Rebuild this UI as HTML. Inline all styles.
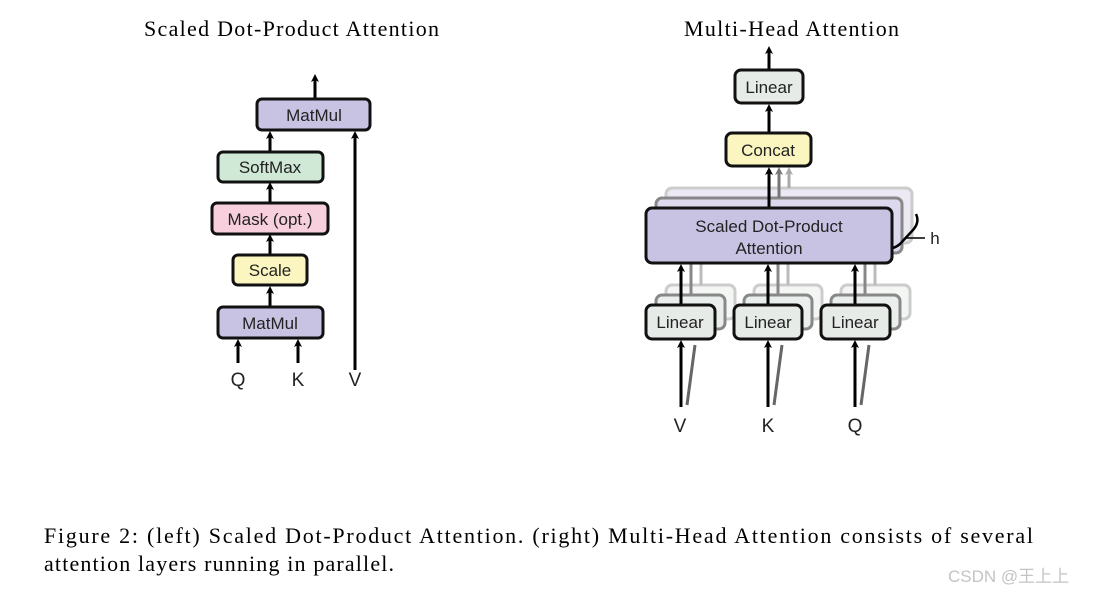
<!DOCTYPE html>
<html><head><meta charset="utf-8"><style>
html,body{margin:0;padding:0;background:#fff;}
svg{display:block}
.sf{font-family:"Liberation Serif",serif;fill:#000}
.ss{font-family:"Liberation Sans",sans-serif;fill:#222}
</style></head><body>
<svg width="1100" height="594" viewBox="0 0 1100 594" xmlns="http://www.w3.org/2000/svg">
<defs>
<marker id="ah" markerWidth="8" markerHeight="8" refX="4" refY="4" orient="auto" markerUnits="userSpaceOnUse"><path d="M0,0 L8,4 L0,8 L2,4 z" fill="#000"/></marker>
<marker id="ah2" markerWidth="8" markerHeight="8" refX="4" refY="4" orient="auto" markerUnits="userSpaceOnUse"><path d="M0,0 L8,4 L0,8 L2,4 z" fill="#777"/></marker>
<marker id="ah3" markerWidth="8" markerHeight="8" refX="4" refY="4" orient="auto" markerUnits="userSpaceOnUse"><path d="M0,0 L8,4 L0,8 L2,4 z" fill="#aaa"/></marker>
</defs>
<text class="sf" x="144" y="36" font-size="22" textLength="295">Scaled Dot-Product Attention</text>
<text class="sf" x="684" y="36" font-size="22" textLength="215">Multi-Head Attention</text>

<g stroke="#000" stroke-width="3" fill="none">
<line x1="315" y1="99" x2="315" y2="78" marker-end="url(#ah)"/>
<line x1="355" y1="370" x2="355" y2="135" marker-end="url(#ah)"/>
<line x1="270" y1="152" x2="270" y2="135" marker-end="url(#ah)"/>
<line x1="270" y1="203" x2="270" y2="186" marker-end="url(#ah)"/>
<line x1="270" y1="255" x2="270" y2="238" marker-end="url(#ah)"/>
<line x1="270" y1="307" x2="270" y2="290" marker-end="url(#ah)"/>
<line x1="238" y1="363" x2="238" y2="343" marker-end="url(#ah)"/>
<line x1="298" y1="363" x2="298" y2="343" marker-end="url(#ah)"/>
</g>
<g stroke="#111" stroke-width="3">
<rect x="257" y="99" width="113" height="31" rx="5" fill="#c9c3e3"/>
<rect x="218" y="152" width="105" height="30" rx="5" fill="#d0e9d6"/>
<rect x="212" y="203" width="116" height="31" rx="5" fill="#f7cfdd"/>
<rect x="233" y="255" width="74" height="30" rx="5" fill="#fbf6c0"/>
<rect x="218" y="307" width="105" height="31" rx="5" fill="#c9c3e3"/>
</g>
<g class="ss" font-size="17" text-anchor="middle">
<text x="314" y="121">MatMul</text>
<text x="270" y="173">SoftMax</text>
<text x="270" y="225">Mask (opt.)</text>
<text x="270" y="276">Scale</text>
<text x="270" y="329">MatMul</text>
<text x="238" y="386" font-size="19">Q</text>
<text x="298" y="386" font-size="19">K</text>
<text x="355" y="386" font-size="19">V</text>
</g>

<!-- right -->
<g stroke-width="3">
<rect x="666" y="188" width="246" height="55" rx="6" fill="#ece9f5" stroke="#ccc"/>
<rect x="656" y="198" width="246" height="55" rx="6" fill="#dcd8ee" stroke="#888"/>
</g>
<g stroke-width="3">
<rect x="666" y="285" width="69" height="34" rx="6" fill="#f4f6f4" stroke="#ccc"/>
<rect x="656" y="295" width="69" height="34" rx="6" fill="#eaeeec" stroke="#888"/>
<rect x="754" y="285" width="68" height="34" rx="6" fill="#f4f6f4" stroke="#ccc"/>
<rect x="744" y="295" width="68" height="34" rx="6" fill="#eaeeec" stroke="#888"/>
<rect x="841" y="285" width="69" height="34" rx="6" fill="#f4f6f4" stroke="#ccc"/>
<rect x="831" y="295" width="69" height="34" rx="6" fill="#eaeeec" stroke="#888"/>
</g>
<g stroke-width="3" fill="none">
<line x1="701" y1="285" x2="701" y2="263" stroke="#bbb"/>
<line x1="691" y1="295" x2="691" y2="263" stroke="#888"/>
<line x1="788" y1="285" x2="788" y2="263" stroke="#bbb"/>
<line x1="778" y1="295" x2="778" y2="263" stroke="#888"/>
<line x1="875" y1="285" x2="875" y2="263" stroke="#bbb"/>
<line x1="865" y1="295" x2="865" y2="263" stroke="#888"/>
<line x1="779" y1="198" x2="779" y2="171" stroke="#777" marker-end="url(#ah2)"/>
<line x1="789" y1="188" x2="789" y2="171" stroke="#aaa" marker-end="url(#ah3)"/>
<line x1="687" y1="405" x2="695" y2="345" stroke="#666"/>
<line x1="774" y1="405" x2="782" y2="345" stroke="#666"/>
<line x1="861" y1="405" x2="869" y2="345" stroke="#666"/>
</g>
<g stroke="#000" stroke-width="3" fill="none">
<line x1="769" y1="70" x2="769" y2="50" marker-end="url(#ah)"/>
<line x1="769" y1="133" x2="769" y2="108" marker-end="url(#ah)"/>
<line x1="769" y1="208" x2="769" y2="171" marker-end="url(#ah)"/>
<line x1="681" y1="305" x2="681" y2="268" marker-end="url(#ah)"/>
<line x1="768" y1="305" x2="768" y2="268" marker-end="url(#ah)"/>
<line x1="855" y1="305" x2="855" y2="268" marker-end="url(#ah)"/>
<line x1="681" y1="407" x2="681" y2="344" marker-end="url(#ah)"/>
<line x1="768" y1="407" x2="768" y2="344" marker-end="url(#ah)"/>
<line x1="855" y1="407" x2="855" y2="344" marker-end="url(#ah)"/>
<path d="M916,214 Q920,222 913,230 L900,244 Q893,250 885,248" stroke-width="2.5"/>
<line x1="905" y1="238" x2="925" y2="238" stroke-width="1.5"/>
</g>
<g stroke="#111" stroke-width="3">
<rect x="735" y="70" width="68" height="33" rx="6" fill="#e6ebe8"/>
<rect x="726" y="133" width="85" height="33" rx="6" fill="#fbf6c0"/>
<rect x="646" y="208" width="246" height="55" rx="6" fill="#c9c3e3"/>
<rect x="646" y="305" width="69" height="34" rx="6" fill="#e6ebe8"/>
<rect x="734" y="305" width="68" height="34" rx="6" fill="#e6ebe8"/>
<rect x="821" y="305" width="69" height="34" rx="6" fill="#e6ebe8"/>
</g>
<g class="ss" font-size="17" text-anchor="middle">
<text x="769" y="93">Linear</text>
<text x="768" y="156">Concat</text>
<text x="769" y="232">Scaled Dot-Product</text>
<text x="769" y="254">Attention</text>
<text x="680" y="328">Linear</text>
<text x="768" y="328">Linear</text>
<text x="855" y="328">Linear</text>
<text x="680" y="432" font-size="19">V</text>
<text x="768" y="432" font-size="19">K</text>
<text x="855" y="432" font-size="19">Q</text>
<text x="935" y="244" font-size="17" text-anchor="middle">h</text>
</g>

<text class="sf" x="44" y="543" font-size="22" textLength="989" lengthAdjust="spacing">Figure 2: (left) Scaled Dot-Product Attention. (right) Multi-Head Attention consists of several</text>
<text class="sf" x="44" y="571" font-size="22" textLength="350">attention layers running in parallel.</text>
<text x="948" y="582" font-size="17" fill="#c4c4c4" font-family="Liberation Sans, Noto Sans CJK SC, sans-serif">CSDN @王上上</text>
</svg>
</body></html>
